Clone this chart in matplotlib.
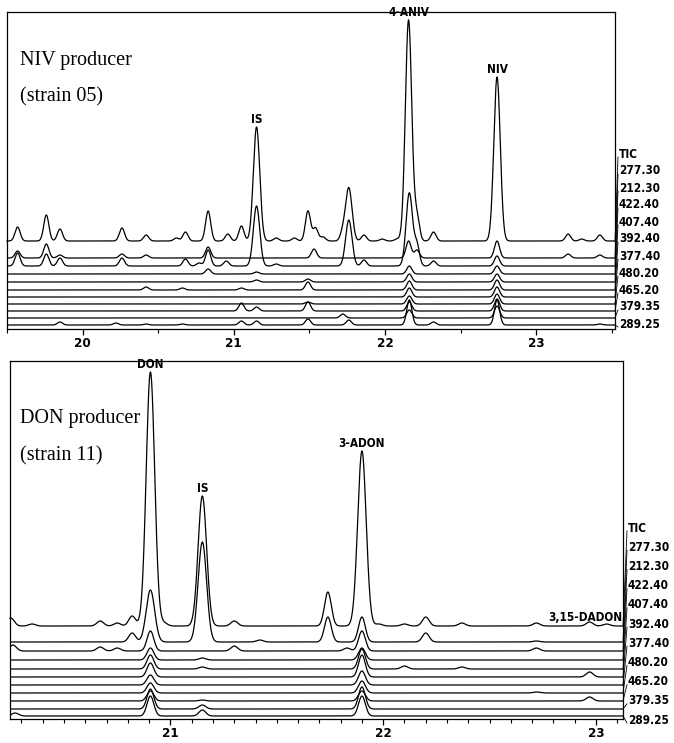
import numpy as np
import matplotlib
matplotlib.use("Agg")
import matplotlib.pyplot as plt
from matplotlib.lines import Line2D
from matplotlib.ticker import MultipleLocator

# ---------------- data ----------------
ion_labels = ["TIC", "277.30", "212.30", "422.40", "407.40", "392.40",
              "377.40", "480.20", "465.20", "379.35", "289.25"]

# NIV producer (strain 05): peaks per trace as (retention time [min], height)
niv_peaks = [
    [(19.57, 14), (19.76, 26), (19.85, 12), (20.26, 13), (20.42, 6), (20.62, 3),
     (20.68, 9), (20.83, 30), (20.96, 7), (21.05, 15), (21.15, 114), (21.28, 3),
     (21.40, 3), (21.49, 30), (21.54, 13), (21.59, 4), (21.72, 8), (21.76, 53),
     (21.86, 6), (21.98, 2), (22.08, 2), (22.155, 221), (22.21, 24), (22.32, 9),
     (22.74, 164), (23.21, 7), (23.30, 2), (23.42, 6)],
    [(19.57, 7), (19.76, 14), (19.85, 3), (20.26, 4), (20.42, 3), (20.83, 11),
     (21.53, 9), (22.155, 17), (22.21, 8), (22.74, 17), (23.21, 4), (23.42, 3)],
    [(19.57, 13), (19.76, 12), (19.85, 8), (20.26, 8), (20.68, 7), (20.77, 3),
     (20.83, 16), (20.95, 5), (21.15, 60), (21.28, 2), (21.76, 46), (21.86, 6),
     (22.16, 73), (22.21, 21), (22.32, 5), (22.74, 10)],
    [(20.83, 5), (21.15, 2), (22.16, 8), (22.74, 8)],
    [(21.15, 2), (21.49, 3), (22.16, 8), (22.74, 8)],
    [(20.42, 3), (20.66, 2), (21.05, 2), (21.49, 8), (22.16, 9), (22.74, 10)],
    [(22.16, 9), (22.74, 10)],
    [(21.49, 2), (22.16, 8), (22.74, 10)],
    [(21.05, 8), (21.15, 4), (21.49, 9), (22.16, 9), (22.74, 12)],
    [(21.72, 4), (22.16, 8), (22.74, 12)],
    [(19.85, 3), (20.22, 2), (20.42, 1), (20.66, 1), (21.05, 4), (21.15, 4),
     (21.49, 6), (21.76, 5), (22.16, 25), (22.32, 3), (22.74, 25), (23.42, 1)],
]
niv_names = [("IS", 21.15, 114), ("4-ANIV", 22.155, 221), ("NIV", 22.74, 164)]
niv_ticks = [20, 21, 22, 23]

# DON producer (strain 11)
don_peaks = [
    [(20.25, 8), (20.35, 2), (20.67, 5), (20.75, 3), (20.82, 10), (20.906, 254),
     (20.97, 3), (21.15, 130), (21.30, 5), (21.74, 34), (21.90, 175), (21.98, 2),
     (22.10, 2), (22.20, 9), (22.37, 3), (22.72, 3), (22.97, 4), (23.05, 2)],
    [(20.82, 9), (20.906, 52), (21.15, 100), (21.42, 2), (21.74, 25), (21.90, 25),
     (22.20, 9), (22.72, 1)],
    [(20.26, 6), (20.67, 4), (20.75, 3), (20.906, 20), (21.30, 5), (21.83, 3),
     (21.90, 20), (22.72, 3)],
    [(20.906, 12), (21.15, 2), (21.90, 12)],
    [(20.906, 14), (21.15, 2), (21.90, 20), (22.10, 3), (22.37, 2)],
    [(20.906, 14), (21.90, 22), (22.97, 5)],
    [(20.906, 10), (21.90, 14)],
    [(20.906, 10), (21.90, 12), (22.72, 1)],
    [(20.906, 10), (21.15, 1), (21.90, 10), (22.97, 4)],
    [(20.906, 20), (21.15, 4), (21.90, 22)],
    [(20.27, 3), (20.906, 20), (21.15, 6), (21.90, 20)],
]
don_names = [("DON", 20.906, 254), ("IS", 21.15, 130), ("3-ADON", 21.90, 175)]
don_ticks = [21, 22, 23]

# ---------------- layout (pixels of the 674x743 canvas) ----------------
W, H = 674, 743
panels = [
    dict(peaks=niv_peaks, names=niv_names, ticks=niv_ticks,
         box=(7, 12, 615, 329), xlim=(19.50, 23.52), sigma=0.017,
         base=[241, 258, 266, 274, 282, 290, 297, 304, 311, 318, 325],
         lab_y0=154, lab_dy=17.0, lab_x=619, minor=0.5,
         text=("NIV producer", "(strain 05)"), text_y=(60, 97)),
    dict(peaks=don_peaks, names=don_names, ticks=don_ticks,
         box=(10, 361, 623, 719), xlim=(20.246, 23.127), sigma=0.016,
         base=[626, 642, 651, 660, 669, 677, 685, 693, 701, 709, 716],
         lab_y0=528, lab_dy=19.2, lab_x=628, minor=0.1,
         text=("DON producer", "(strain 11)"), text_y=(418, 456)),
]

fig = plt.figure(figsize=(W / 100, H / 100), dpi=100)
fig.patch.set_facecolor("white")

mono = dict(family="DejaVu Sans", fontstretch="condensed", fontweight="bold")


def fx(x):
    return x / W


def fy(y):
    return 1 - y / H


for p in panels:
    x0, y0, x1, y1 = p["box"]
    ax = fig.add_axes([fx(x0), fy(y1), (x1 - x0) / W, (y1 - y0) / H])
    ph = y1 - y0
    ax.set_xlim(*p["xlim"])
    ax.set_ylim(0, ph)
    t = np.linspace(p["xlim"][0], p["xlim"][1], 4000)
    for i, pk in enumerate(p["peaks"]):
        off = y1 - p["base"][i]
        y = np.full_like(t, off, dtype=float)
        for rt, h in pk:
            s = p["sigma"] * (1.25 if h > 40 else 1.0)
            y += h * np.exp(-0.5 * ((t - rt) / s) ** 2)
        ax.plot(t, y, color="black", lw=0.9, clip_on=False if i == 0 else True)
    for name, rt, h in p["names"]:
        off = y1 - p["base"][0]
        ax.text(rt, off + h + 1, name, ha="center", va="bottom",
                fontsize=8.5, color="black", **mono)
    if p is panels[1]:
        ax.text(23.125, y1 - p["base"][0] + 2, "3,15-DADON", ha="right",
                va="bottom", fontsize=8.5, color="black", **mono)
    ax.set_yticks([])
    ax.set_xticks(p["ticks"])
    ax.set_xticklabels([str(v) for v in p["ticks"]])
    ax.xaxis.set_minor_locator(MultipleLocator(p["minor"]))
    ax.tick_params(axis="x", which="major", direction="out", length=4,
                   width=0.9, pad=2, labelsize=9.5)
    ax.tick_params(axis="x", which="minor", direction="out", length=3,
                   width=0.8)
    for lab in ax.get_xticklabels():
        lab.set_fontfamily("DejaVu Sans")
        lab.set_fontstretch("condensed")
        lab.set_fontweight("bold")
    for sp in ax.spines.values():
        sp.set_linewidth(0.9)
        sp.set_color("black")
    ax.patch.set_alpha(0)

    # trace labels and connectors
    for i, lab in enumerate(ion_labels):
        ly = p["lab_y0"] + i * p["lab_dy"]
        fig.add_artist(Line2D([fx(x1), fx(p["lab_x"] - 1)],
                              [fy(p["base"][i]), fy(ly + 3)],
                              color="black", lw=0.6))
        fig.text(fx(p["lab_x"]), fy(ly), lab, ha="left", va="center",
                 fontsize=8.5, color="black", **mono)

    t1, t2 = p["text"]
    fig.text(fx(20), fy(p["text_y"][0]), t1, ha="left", va="center",
             fontsize=14.5, family="Liberation Serif")
    fig.text(fx(20), fy(p["text_y"][1]), t2, ha="left", va="center",
             fontsize=14.5, family="Liberation Serif")

fig.savefig("out.png", dpi=100)
